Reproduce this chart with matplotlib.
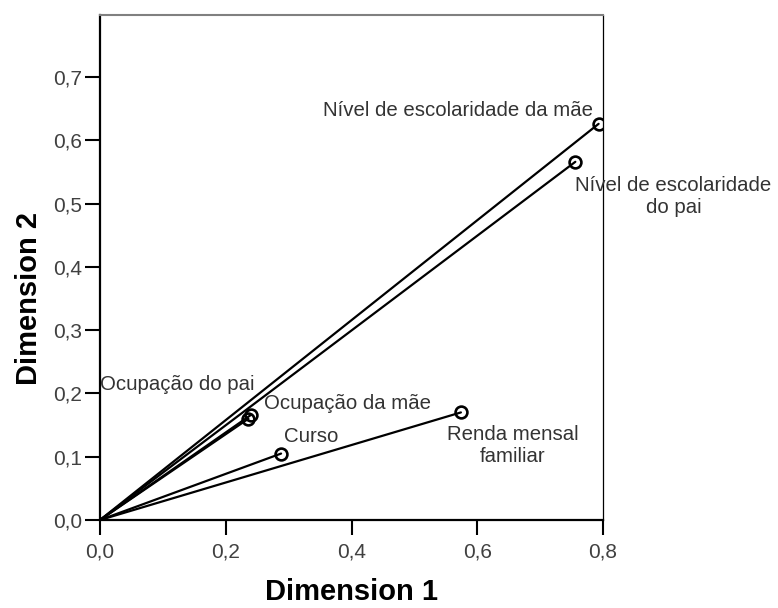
import numpy as np
import matplotlib
matplotlib.use("Agg")
import matplotlib.pyplot as plt
from matplotlib.ticker import FuncFormatter

plt.rcParams['font.family'] = ['Liberation Sans', 'DejaVu Sans']

# component loadings
variables = ["Nível de escolaridade da mãe", "Nível de escolaridade\ndo pai",
             "Ocupação do pai", "Ocupação da mãe", "Curso",
             "Renda mensal\nfamiliar"]
dim1 = [0.793, 0.756, 0.236, 0.240, 0.288, 0.574]
dim2 = [0.626, 0.566, 0.160, 0.166, 0.105, 0.170]

# label placement (offset in pixels from the point, alignment)
label_offsets = [(-6, 13), (98, -14), (-148, 34), (13, 11), (3, 17), (52, -13)]
label_ha = ["right", "center", "left", "left", "left", "center"]
label_va = ["center", "top", "center", "center", "center", "top"]

xticks = [0.0, 0.2, 0.4, 0.6, 0.8]
yticks = [0.0, 0.1, 0.2, 0.3, 0.4, 0.5, 0.6, 0.7]

fig = plt.figure(figsize=(7.78, 6.08), dpi=100)
ax = fig.add_axes([100/778, 1-520/608, 503/778, 505/608])

for x, y in zip(dim1, dim2):
    ax.plot([0, x], [0, y], color='black', lw=1.6, solid_capstyle='round', zorder=2)
ax.plot(dim1, dim2, 'o', ms=8.5, mfc='none', mec='black', mew=1.9, zorder=3)

for i in range(len(variables)):
    ax.annotate(variables[i], (dim1[i], dim2[i]), xytext=label_offsets[i],
                textcoords='offset pixels', ha=label_ha[i], va=label_va[i],
                multialignment='center', fontsize=14.7, color='#333333')

ax.set_xlim(0, 0.8)
ax.set_ylim(0, 0.798)
ax.set_xticks(xticks)
ax.set_yticks(yticks)
fmt = FuncFormatter(lambda v, p: ("%.1f" % v).replace('.', ','))
ax.xaxis.set_major_formatter(fmt)
ax.yaxis.set_major_formatter(fmt)
ax.tick_params(axis='both', length=11, width=1.5, color='black',
               labelsize=15, labelcolor='#404040')
ax.tick_params(axis='y', pad=2)
ax.tick_params(axis='x', pad=5)

for s in ['left', 'bottom']:
    ax.spines[s].set_linewidth(1.6)
    ax.spines[s].set_color('black')
ax.spines['top'].set_color('#808080')
ax.spines['top'].set_linewidth(1.5)
ax.spines['right'].set_color('black')
ax.spines['right'].set_linewidth(0.9)

ax.set_xlabel("Dimension 1", fontsize=21, fontweight='bold')
ax.set_ylabel("Dimension 2", fontsize=21, fontweight='bold')
ax.xaxis.label.set_verticalalignment('center')
ax.yaxis.label.set_verticalalignment('center')
ax.xaxis.set_label_coords(0.5, -(592-520)/505)
ax.yaxis.set_label_coords(-(100-29)/503, 0.35/0.798)

fig.savefig("out.png", dpi=100)
